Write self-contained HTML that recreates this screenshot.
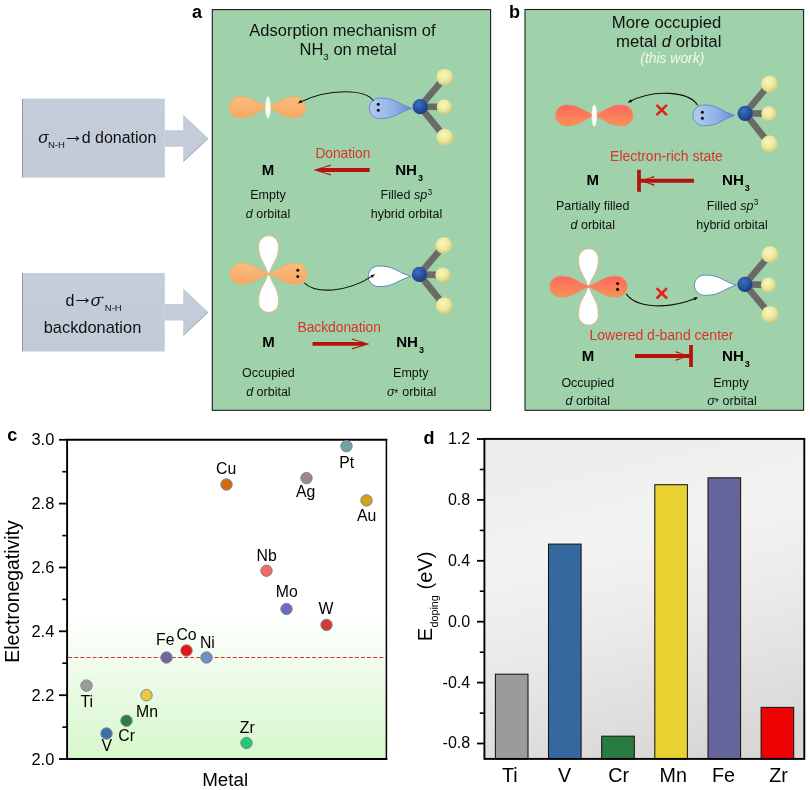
<!DOCTYPE html>
<html lang="en"><head><meta charset="utf-8"><title>Figure</title>
<style>html,body{margin:0;padding:0;background:#fff;}body{width:810px;height:790px;overflow:hidden;}svg{display:block;font-family:"Liberation Sans", Arial, sans-serif;}svg{will-change:transform;}text{white-space:pre;}</style></head><body>
<svg width="810" height="790" viewBox="0 0 810 790">
<defs>
<linearGradient id="gBox" x1="0" y1="0" x2="0" y2="1">
 <stop offset="0" stop-color="#c5cdda"/><stop offset="1" stop-color="#c2cad7"/></linearGradient>
<linearGradient id="gArr" x1="0" y1="0" x2="0" y2="1">
 <stop offset="0" stop-color="#d3d9e3"/><stop offset="0.5" stop-color="#c3cbd8"/><stop offset="1" stop-color="#a9b4c6"/></linearGradient>
<radialGradient id="gN" cx="0.4" cy="0.35" r="0.7">
 <stop offset="0" stop-color="#3f6fc0"/><stop offset="0.6" stop-color="#23509c"/><stop offset="1" stop-color="#173a78"/></radialGradient>
<radialGradient id="gH" cx="0.42" cy="0.36" r="0.7">
 <stop offset="0" stop-color="#fbf6c0"/><stop offset="0.55" stop-color="#ece79a"/><stop offset="1" stop-color="#c5c47c"/></radialGradient>
<linearGradient id="gSp" x1="0" y1="0" x2="1" y2="0">
 <stop offset="0" stop-color="#b4cbf0"/><stop offset="0.6" stop-color="#8fb0e6"/><stop offset="1" stop-color="#5f8bd6"/></linearGradient>
<radialGradient id="gOrL" cx="0.35" cy="0.5" r="0.75">
 <stop offset="0" stop-color="#f7b878"/><stop offset="1" stop-color="#f2a25c"/></radialGradient>
<linearGradient id="gOrA" x1="0" y1="0" x2="0" y2="1">
 <stop offset="0" stop-color="#fcbb7e"/><stop offset="1" stop-color="#f6a862"/></linearGradient>
<linearGradient id="gOrB" x1="0" y1="0" x2="0" y2="1">
 <stop offset="0" stop-color="#fc6660"/><stop offset="1" stop-color="#fa9355"/></linearGradient>
<linearGradient id="gC" x1="0" y1="0" x2="0" y2="1">
 <stop offset="0" stop-color="#ffffff"/><stop offset="0.55" stop-color="#ffffff"/>
 <stop offset="0.72" stop-color="#effceb"/><stop offset="1" stop-color="#d6f7cb"/></linearGradient>
<linearGradient id="gD" x1="0.38" y1="0" x2="0.62" y2="1">
 <stop offset="0" stop-color="#ececea"/><stop offset="0.3" stop-color="#f3f3f1"/><stop offset="0.55" stop-color="#ecebe9"/><stop offset="1" stop-color="#d8d7d5"/></linearGradient>
<filter id="blur1" x="-20%" y="-20%" width="140%" height="140%"><feGaussianBlur stdDeviation="0.6"/></filter>
</defs>
<rect x="22.3" y="98.6" width="142.5" height="79.0" fill="url(#gBox)"/>
<rect x="22" y="98.6" width="1" height="79.0" fill="#8d9bb2"/>
<polygon points="164.8,130.3 183.2,130.3 183.2,115.3 208,138.5 183.2,161.7 183.2,146.7 164.8,146.7" fill="#c4ccd9"/>
<path d="M208,138.5 L183.4,161.5" fill="none" stroke="#8b99b0" stroke-width="0.9"/>
<path d="M183.2,115.3 L208,138.5" fill="none" stroke="#b3bdcd" stroke-width="0.7"/>
<rect x="22.3" y="273.0" width="142.5" height="78.5" fill="url(#gBox)"/>
<rect x="22" y="273.0" width="1" height="78.5" fill="#8d9bb2"/>
<polygon points="164.8,304.1 183.2,304.1 183.2,289.1 208,312.3 183.2,335.5 183.2,320.5 164.8,320.5" fill="#c4ccd9"/>
<path d="M208,312.3 L183.4,335.3" fill="none" stroke="#8b99b0" stroke-width="0.9"/>
<path d="M183.2,289.1 L208,312.3" fill="none" stroke="#b3bdcd" stroke-width="0.7"/>
<text x="38.3" y="143.3" font-size="16" fill="#111"><tspan font-style="italic" font-size="17">σ</tspan><tspan font-size="9.5" dy="4.8" dx="-0.6">N-H</tspan><tspan font-size="21" dy="-6.2" dx="-2.0">→</tspan><tspan dy="1.4" dx="-2.2">d donation</tspan></text>
<text x="65.4" y="305.7" font-size="16" fill="#111">d<tspan font-size="21" dy="-1.4" dx="-2.0">→</tspan><tspan font-style="italic" font-size="17" dy="1.4" dx="-2.6">σ</tspan><tspan font-size="7" dy="-5.2" dx="0.2">*</tspan><tspan font-size="9.5" dy="10.6" dx="0.9">N-H</tspan></text>
<text x="92.5" y="333" font-size="16.4" text-anchor="middle" font-weight="normal" font-style="normal" fill="#111" >backdonation</text>
<rect x="212.3" y="9.6" width="278.3" height="400.7" fill="#9fd2aa" stroke="#1c1c1c" stroke-width="1.1"/>
<rect x="525.0" y="9.5" width="278.6" height="400.8" fill="#9fd2aa" stroke="#1c1c1c" stroke-width="1.1"/>
<text x="192.0" y="17.7" font-size="18" text-anchor="start" font-weight="bold" font-style="normal" fill="#000" >a</text>
<text x="508.9" y="17.7" font-size="18" text-anchor="start" font-weight="bold" font-style="normal" fill="#000" >b</text>
<path d="M268.10,107.30 C254.52,102.31 253.39,96.90 239.81,96.90 C233.95,96.90 229.20,101.56 229.20,107.30 C229.20,113.04 233.95,117.70 239.81,117.70 C253.39,117.70 254.52,112.29 268.10,107.30 Z" fill="url(#gOrA)" stroke="#f0a762" stroke-width="0.7"/>
<path d="M266.90,107.30 C280.48,102.31 281.61,96.90 295.19,96.90 C301.05,96.90 305.80,101.56 305.80,107.30 C305.80,113.04 301.05,117.70 295.19,117.70 C281.61,117.70 280.48,112.29 266.90,107.30 Z" fill="url(#gOrA)" stroke="#f0a762" stroke-width="0.7"/>
<ellipse cx="268.0" cy="107.5" rx="2.3" ry="10.7" fill="#fffdf5" stroke="#fffaf0" stroke-width="0.7" stroke-dasharray="2.4 0.9"/>
<path d="M412.00,108.30 C396.55,103.36 395.26,98.00 379.81,98.00 C374.00,98.00 369.30,102.61 369.30,108.30 C369.30,113.99 374.00,118.60 379.81,118.60 C395.26,118.60 396.55,113.24 412.00,108.30 Z" fill="url(#gSp)" stroke="#5a86cc" stroke-width="0.9"/>
<circle cx="378.3" cy="104.2" r="1.55" fill="#111"/><circle cx="378.3" cy="110.3" r="1.55" fill="#111"/>
<line x1="420.2" y1="106.7" x2="444.9" y2="77.3" stroke="#6b6a68" stroke-width="6.6" stroke-linecap="butt"/>
<line x1="420.2" y1="106.7" x2="444.3" y2="106.9" stroke="#6b6a68" stroke-width="6.6" stroke-linecap="butt"/>
<line x1="420.2" y1="106.7" x2="444.9" y2="137.2" stroke="#6b6a68" stroke-width="6.6" stroke-linecap="butt"/>
<circle cx="444.9" cy="77.3" r="8.4" fill="url(#gH)"/>
<circle cx="444.3" cy="106.9" r="7.5" fill="url(#gH)"/>
<circle cx="444.9" cy="137.2" r="8.4" fill="url(#gH)"/>
<circle cx="420.2" cy="106.7" r="7.6" fill="url(#gN)"/>
<path d="M268.60,274.60 C263.85,260.82 258.70,259.67 258.70,245.90 C258.70,240.32 263.13,235.80 268.60,235.80 C274.07,235.80 278.50,240.32 278.50,245.90 C278.50,259.67 273.35,260.82 268.60,274.60 Z" fill="#ffffff" stroke="#e3b98c" stroke-width="0.9"/>
<path d="M268.60,273.00 C263.85,287.02 258.70,288.19 258.70,302.20 C258.70,307.78 263.13,312.30 268.60,312.30 C274.07,312.30 278.50,307.78 278.50,302.20 C278.50,288.19 273.35,287.02 268.60,273.00 Z" fill="#ffffff" stroke="#e3b98c" stroke-width="0.9"/>
<path d="M269.40,273.80 C255.58,268.86 254.43,263.50 240.61,263.50 C234.80,263.50 230.10,268.11 230.10,273.80 C230.10,279.49 234.80,284.10 240.61,284.10 C254.43,284.10 255.58,278.74 269.40,273.80 Z" fill="url(#gOrA)" stroke="#f0a762" stroke-width="0.7"/>
<path d="M267.80,273.80 C281.62,268.86 282.77,263.50 296.59,263.50 C302.40,263.50 307.10,268.11 307.10,273.80 C307.10,279.49 302.40,284.10 296.59,284.10 C282.77,284.10 281.62,278.74 267.80,273.80 Z" fill="url(#gOrA)" stroke="#f0a762" stroke-width="0.7"/>
<circle cx="297.8" cy="270.3" r="1.55" fill="#111"/><circle cx="297.8" cy="276.5" r="1.55" fill="#111"/>
<path d="M410.80,276.30 C395.44,271.36 394.16,266.00 378.81,266.00 C373.00,266.00 368.30,270.61 368.30,276.30 C368.30,281.99 373.00,286.60 378.81,286.60 C394.16,286.60 395.44,281.24 410.80,276.30 Z" fill="#ffffff" stroke="#5584c0" stroke-width="0.95"/>
<line x1="419.4" y1="274.4" x2="443.9" y2="245.6" stroke="#6b6a68" stroke-width="6.6" stroke-linecap="butt"/>
<line x1="419.4" y1="274.4" x2="442.8" y2="275.1" stroke="#6b6a68" stroke-width="6.6" stroke-linecap="butt"/>
<line x1="419.4" y1="274.4" x2="444.3" y2="305.6" stroke="#6b6a68" stroke-width="6.6" stroke-linecap="butt"/>
<circle cx="443.9" cy="245.6" r="8.4" fill="url(#gH)"/>
<circle cx="442.8" cy="275.1" r="7.5" fill="url(#gH)"/>
<circle cx="444.3" cy="305.6" r="8.4" fill="url(#gH)"/>
<circle cx="419.4" cy="274.4" r="7.6" fill="url(#gN)"/>
<path d="M594.80,115.40 C581.03,110.46 579.88,105.10 566.11,105.10 C560.30,105.10 555.60,109.71 555.60,115.40 C555.60,121.09 560.30,125.70 566.11,125.70 C579.88,125.70 581.03,120.34 594.80,115.40 Z" fill="url(#gOrB)" stroke="#f8825f" stroke-width="0.7"/>
<path d="M593.60,115.40 C607.37,110.46 608.52,105.10 622.29,105.10 C628.10,105.10 632.80,109.71 632.80,115.40 C632.80,121.09 628.10,125.70 622.29,125.70 C608.52,125.70 607.37,120.34 593.60,115.40 Z" fill="url(#gOrB)" stroke="#f8825f" stroke-width="0.7"/>
<ellipse cx="594.3" cy="115.60000000000001" rx="2.3" ry="10.7" fill="#fffdf5" stroke="#fffaf0" stroke-width="0.7" stroke-dasharray="2.4 0.9"/>
<path d="M734.60,115.40 C719.68,110.41 718.43,105.00 703.51,105.00 C697.65,105.00 692.90,109.66 692.90,115.40 C692.90,121.14 697.65,125.80 703.51,125.80 C718.43,125.80 719.68,120.39 734.60,115.40 Z" fill="url(#gSp)" stroke="#5a86cc" stroke-width="0.9"/>
<circle cx="702.4" cy="112.3" r="1.55" fill="#111"/><circle cx="702.4" cy="118.3" r="1.55" fill="#111"/>
<line x1="745.1" y1="113.3" x2="769.4" y2="84.1" stroke="#6b6a68" stroke-width="6.6" stroke-linecap="butt"/>
<line x1="745.1" y1="113.3" x2="768.8" y2="113.7" stroke="#6b6a68" stroke-width="6.6" stroke-linecap="butt"/>
<line x1="745.1" y1="113.3" x2="769.4" y2="144.0" stroke="#6b6a68" stroke-width="6.6" stroke-linecap="butt"/>
<circle cx="769.4" cy="84.1" r="8.4" fill="url(#gH)"/>
<circle cx="768.8" cy="113.7" r="7.5" fill="url(#gH)"/>
<circle cx="769.4" cy="144.0" r="8.4" fill="url(#gH)"/>
<circle cx="745.1" cy="113.3" r="7.6" fill="url(#gN)"/>
<path d="M588.50,287.40 C583.75,273.67 578.60,272.53 578.60,258.80 C578.60,253.22 583.03,248.70 588.50,248.70 C593.97,248.70 598.40,253.22 598.40,258.80 C598.40,272.53 593.25,273.67 588.50,287.40 Z" fill="#ffffff" stroke="#e6b08c" stroke-width="0.9"/>
<path d="M588.50,285.80 C583.75,299.82 578.60,300.99 578.60,315.00 C578.60,320.58 583.03,325.10 588.50,325.10 C593.97,325.10 598.40,320.58 598.40,315.00 C598.40,300.99 593.25,299.82 588.50,285.80 Z" fill="#ffffff" stroke="#e6b08c" stroke-width="0.9"/>
<path d="M589.30,286.60 C575.48,281.61 574.33,276.20 560.51,276.20 C554.65,276.20 549.90,280.86 549.90,286.60 C549.90,292.34 554.65,297.00 560.51,297.00 C574.33,297.00 575.48,291.59 589.30,286.60 Z" fill="url(#gOrB)" stroke="#f8825f" stroke-width="0.7"/>
<path d="M587.70,286.60 C601.52,281.61 602.67,276.20 616.49,276.20 C622.35,276.20 627.10,280.86 627.10,286.60 C627.10,292.34 622.35,297.00 616.49,297.00 C602.67,297.00 601.52,291.59 587.70,286.60 Z" fill="url(#gOrB)" stroke="#f8825f" stroke-width="0.7"/>
<circle cx="617.6" cy="283.5" r="1.55" fill="#111"/><circle cx="617.6" cy="289.4" r="1.55" fill="#111"/>
<path d="M736.20,285.20 C721.13,280.30 719.87,275.00 704.80,275.00 C699.06,275.00 694.40,279.57 694.40,285.20 C694.40,290.83 699.06,295.40 704.80,295.40 C719.87,295.40 721.13,290.10 736.20,285.20 Z" fill="#ffffff" stroke="#5584c0" stroke-width="0.95"/>
<line x1="744.9" y1="284.3" x2="770.0" y2="254.6" stroke="#6b6a68" stroke-width="6.6" stroke-linecap="butt"/>
<line x1="744.9" y1="284.3" x2="768.4" y2="285.0" stroke="#6b6a68" stroke-width="6.6" stroke-linecap="butt"/>
<line x1="744.9" y1="284.3" x2="770.0" y2="314.3" stroke="#6b6a68" stroke-width="6.6" stroke-linecap="butt"/>
<circle cx="770.0" cy="254.6" r="8.4" fill="url(#gH)"/>
<circle cx="768.4" cy="285.0" r="7.5" fill="url(#gH)"/>
<circle cx="770.0" cy="314.3" r="8.4" fill="url(#gH)"/>
<circle cx="744.9" cy="284.3" r="7.6" fill="url(#gN)"/>
<path d="M373.4,100.8 C366,89.5 330,87.2 299.2,102.5" fill="none" stroke="#111" stroke-width="1.05"/>
<polygon points="297.80,103.40 300.75,99.76 302.40,102.51" fill="#111"/>
<path d="M304.3,282.9 C315,293.5 346,293.5 373.4,275.4" fill="none" stroke="#111" stroke-width="1.05"/>
<polygon points="375.00,274.30 372.18,278.04 370.44,275.35" fill="#111"/>
<path d="M697.7,105.2 C689,91.5 654,88.5 629.2,101.8" fill="none" stroke="#111" stroke-width="1.05"/>
<polygon points="627.50,102.70 630.63,99.22 632.14,102.05" fill="#111"/>
<path d="M656.5,104.8 L666.9000000000001,115.2 M666.9000000000001,104.8 L656.5,115.2" stroke="#e1231d" stroke-width="2.6" fill="none"/>
<path d="M626.2,293.9 C636,308 668,310 696.4,298.0" fill="none" stroke="#111" stroke-width="1.05"/>
<polygon points="698.20,297.20 694.77,300.39 693.52,297.45" fill="#111"/>
<path d="M656.5999999999999,288.1 L667.0,298.5 M667.0,288.1 L656.5999999999999,298.5" stroke="#e1231d" stroke-width="2.6" fill="none"/>
<text x="342.4" y="36.0" font-size="16.5" text-anchor="middle" font-weight="normal" font-style="normal" fill="#111" >Adsorption mechanism of</text>
<text x="348.1" y="54.5" font-size="16.5" text-anchor="middle" fill="#111">NH<tspan font-size="9.8" dy="5.3">3</tspan><tspan dy="-5.3"> on metal</tspan></text>
<text x="342.9" y="158.0" font-size="13.75" text-anchor="middle" font-weight="normal" font-style="normal" fill="#d8342a" >Donation</text>
<line x1="369.7" y1="170.0" x2="319.4" y2="170.0" stroke="#b5130f" stroke-width="3.8"/>
<polygon points="313.40,170.00 331.00,164.50 330.70,165.90 322.40,168.10 322.40,171.90 330.70,174.10 331.00,175.50" fill="#b5130f"/>
<text x="268.0" y="175.2" font-size="15.0" text-anchor="middle" font-weight="bold" font-style="normal" fill="#000" >M</text>
<text x="395.2" y="175.2" font-size="15.1" font-weight="bold" fill="#000">NH<tspan font-size="9" dy="6.0" dx="1.0">3</tspan></text>
<text x="268.0" y="199.0" font-size="12.5" text-anchor="middle" font-weight="normal" font-style="normal" fill="#111" >Empty</text>
<text x="268.0" y="217.6" font-size="12.5" text-anchor="middle" fill="#111"><tspan font-style="italic">d</tspan> orbital</text>
<text x="406.3" y="199.0" font-size="12.5" text-anchor="middle" fill="#111">Filled <tspan font-style="italic">sp</tspan><tspan font-size="8.4" dy="-4.4" dx="0.3">3</tspan></text>
<text x="406.5" y="217.6" font-size="12.5" text-anchor="middle" font-weight="normal" font-style="normal" fill="#111" >hybrid orbital</text>
<text x="339.2" y="331.6" font-size="13.75" text-anchor="middle" font-weight="normal" font-style="normal" fill="#d8342a" >Backdonation</text>
<line x1="312.5" y1="343.9" x2="363.6" y2="343.9" stroke="#b5130f" stroke-width="3.8"/>
<polygon points="369.60,343.90 352.00,338.40 352.30,339.80 360.60,342.00 360.60,345.80 352.30,348.00 352.00,349.40" fill="#b5130f"/>
<text x="268.6" y="347.2" font-size="15.0" text-anchor="middle" font-weight="bold" font-style="normal" fill="#000" >M</text>
<text x="396.2" y="347.2" font-size="15.1" font-weight="bold" fill="#000">NH<tspan font-size="9" dy="6.0" dx="1.0">3</tspan></text>
<text x="268.4" y="377.2" font-size="12.5" text-anchor="middle" font-weight="normal" font-style="normal" fill="#111" >Occupied</text>
<text x="268.4" y="395.8" font-size="12.5" text-anchor="middle" fill="#111"><tspan font-style="italic">d</tspan> orbital</text>
<text x="410.8" y="377.2" font-size="12.5" text-anchor="middle" font-weight="normal" font-style="normal" fill="#111" >Empty</text>
<text x="411.6" y="395.8" font-size="12.5" text-anchor="middle" fill="#111"><tspan font-style="italic">σ</tspan><tspan font-size="10.5" dy="0.9" dx="-0.2">*</tspan><tspan dy="-0.9" dx="0.4"> orbital</tspan></text>
<text x="666.5" y="28.4" font-size="16.7" text-anchor="middle" font-weight="normal" font-style="normal" fill="#111" >More occupied</text>
<text x="668.7" y="47.3" font-size="16.8" text-anchor="middle" fill="#111">metal <tspan font-style="italic">d</tspan> orbital</text>
<text x="672.3" y="63.3" font-size="13.9" text-anchor="middle" font-weight="normal" font-style="italic" fill="#f2f9f2" >(this work)</text>
<text x="666.5" y="161.3" font-size="14.0" text-anchor="middle" font-weight="normal" font-style="normal" fill="#d8342a" >Electron-rich state</text>
<line x1="694.0" y1="180.8" x2="639.0" y2="180.8" stroke="#b5130f" stroke-width="4.0"/>
<line x1="639.0" y1="169.8" x2="639.0" y2="191.8" stroke="#b5130f" stroke-width="3.8"/>
<polygon points="640.90,180.80 654.50,175.70 653.90,177.50 647.90,178.80 647.90,182.80 653.90,184.10 654.50,185.90" fill="#b5130f"/>
<text x="592.7" y="184.8" font-size="15.0" text-anchor="middle" font-weight="bold" font-style="normal" fill="#000" >M</text>
<text x="722.0" y="184.8" font-size="15.1" font-weight="bold" fill="#000">NH<tspan font-size="9" dy="6.0" dx="1.0">3</tspan></text>
<text x="592.7" y="209.8" font-size="12.5" text-anchor="middle" font-weight="normal" font-style="normal" fill="#111" >Partially filled</text>
<text x="592.8" y="228.6" font-size="12.5" text-anchor="middle" fill="#111"><tspan font-style="italic">d</tspan> orbital</text>
<text x="732.6" y="209.8" font-size="12.5" text-anchor="middle" fill="#111">Filled <tspan font-style="italic">sp</tspan><tspan font-size="8.4" dy="-4.4" dx="0.3">3</tspan></text>
<text x="732.0" y="228.6" font-size="12.5" text-anchor="middle" font-weight="normal" font-style="normal" fill="#111" >hybrid orbital</text>
<text x="661.5" y="339.5" font-size="14.0" text-anchor="middle" font-weight="normal" font-style="normal" fill="#d8342a" >Lowered d-band center</text>
<line x1="635.0" y1="356.0" x2="691.0" y2="356.0" stroke="#b5130f" stroke-width="4.0"/>
<line x1="691.0" y1="345.0" x2="691.0" y2="367.0" stroke="#b5130f" stroke-width="3.8"/>
<polygon points="689.10,356.00 675.50,350.90 676.10,352.70 682.10,354.00 682.10,358.00 676.10,359.30 675.50,361.10" fill="#b5130f"/>
<text x="588.0" y="360.6" font-size="15.0" text-anchor="middle" font-weight="bold" font-style="normal" fill="#000" >M</text>
<text x="722.0" y="360.6" font-size="15.1" font-weight="bold" fill="#000">NH<tspan font-size="9" dy="6.0" dx="1.0">3</tspan></text>
<text x="587.8" y="386.6" font-size="12.5" text-anchor="middle" font-weight="normal" font-style="normal" fill="#111" >Occupied</text>
<text x="587.8" y="405.2" font-size="12.5" text-anchor="middle" fill="#111"><tspan font-style="italic">d</tspan> orbital</text>
<text x="731.0" y="386.6" font-size="12.5" text-anchor="middle" font-weight="normal" font-style="normal" fill="#111" >Empty</text>
<text x="732.0" y="405.2" font-size="12.5" text-anchor="middle" fill="#111"><tspan font-style="italic">σ</tspan><tspan font-size="10.5" dy="0.9" dx="-0.2">*</tspan><tspan dy="-0.9" dx="0.4"> orbital</tspan></text>
<rect x="67.1" y="439.8" width="319.29999999999995" height="319.2" fill="url(#gC)"/>
<line x1="68.1" y1="657.5" x2="385.4" y2="657.5" stroke="#cc3a32" stroke-width="1" stroke-dasharray="4.1 2"/>
<path d="M386.4,439.8 L67.1,439.8 L67.1,759.0 L386.4,759.0" fill="none" stroke="#000" stroke-width="1.9" stroke-linejoin="miter" stroke-linecap="square"/>
<line x1="386.4" y1="439.8" x2="386.4" y2="759.0" stroke="#000" stroke-width="1.5" stroke-linecap="square"/>
<line x1="58.99999999999999" y1="439.8" x2="67.1" y2="439.8" stroke="#000" stroke-width="1.8"/>
<text x="54.3" y="445.4" font-size="16.4" text-anchor="end" font-weight="normal" font-style="normal" fill="#000" >3.0</text>
<line x1="62.3" y1="471.7" x2="67.1" y2="471.7" stroke="#000" stroke-width="1.6"/>
<line x1="58.99999999999999" y1="503.6" x2="67.1" y2="503.6" stroke="#000" stroke-width="1.8"/>
<text x="54.3" y="509.2" font-size="16.4" text-anchor="end" font-weight="normal" font-style="normal" fill="#000" >2.8</text>
<line x1="62.3" y1="535.6" x2="67.1" y2="535.6" stroke="#000" stroke-width="1.6"/>
<line x1="58.99999999999999" y1="567.5" x2="67.1" y2="567.5" stroke="#000" stroke-width="1.8"/>
<text x="54.3" y="573.1" font-size="16.4" text-anchor="end" font-weight="normal" font-style="normal" fill="#000" >2.6</text>
<line x1="62.3" y1="599.4" x2="67.1" y2="599.4" stroke="#000" stroke-width="1.6"/>
<line x1="58.99999999999999" y1="631.3" x2="67.1" y2="631.3" stroke="#000" stroke-width="1.8"/>
<text x="54.3" y="636.9" font-size="16.4" text-anchor="end" font-weight="normal" font-style="normal" fill="#000" >2.4</text>
<line x1="62.3" y1="663.2" x2="67.1" y2="663.2" stroke="#000" stroke-width="1.6"/>
<line x1="58.99999999999999" y1="695.2" x2="67.1" y2="695.2" stroke="#000" stroke-width="1.8"/>
<text x="54.3" y="700.8" font-size="16.4" text-anchor="end" font-weight="normal" font-style="normal" fill="#000" >2.2</text>
<line x1="62.3" y1="727.1" x2="67.1" y2="727.1" stroke="#000" stroke-width="1.6"/>
<line x1="58.99999999999999" y1="759.0" x2="67.1" y2="759.0" stroke="#000" stroke-width="1.8"/>
<text x="54.3" y="764.6" font-size="16.4" text-anchor="end" font-weight="normal" font-style="normal" fill="#000" >2.0</text>
<text x="0" y="0" font-size="19.4" text-anchor="middle" font-weight="normal" font-style="normal" fill="#000" transform="translate(19.1,591.5) rotate(-90)">Electronegativity</text>
<text x="225.2" y="785.6" font-size="18.8" text-anchor="middle" font-weight="normal" font-style="normal" fill="#000" >Metal</text>
<text x="7.3" y="440.8" font-size="18" text-anchor="start" font-weight="bold" font-style="normal" fill="#000" >c</text>
<circle cx="86.5" cy="685.6" r="5.7" fill="#9c9c9c" stroke="#7f848c" stroke-width="1.0"/>
<circle cx="106.5" cy="733.5" r="5.7" fill="#3b6fa9" stroke="#7f848c" stroke-width="1.0"/>
<circle cx="126.5" cy="720.7" r="5.7" fill="#2e7d47" stroke="#7f848c" stroke-width="1.0"/>
<circle cx="146.5" cy="695.2" r="5.7" fill="#e9cb3c" stroke="#7f848c" stroke-width="1.0"/>
<circle cx="166.5" cy="657.5" r="5.7" fill="#6c699f" stroke="#7f848c" stroke-width="1.0"/>
<circle cx="186.5" cy="650.5" r="5.7" fill="#ee1212" stroke="#7f848c" stroke-width="1.0"/>
<circle cx="206.5" cy="657.5" r="5.7" fill="#7090c5" stroke="#7f848c" stroke-width="1.0"/>
<circle cx="226.5" cy="484.5" r="5.7" fill="#d36a10" stroke="#7f848c" stroke-width="1.0"/>
<circle cx="246.5" cy="743.0" r="5.7" fill="#21c978" stroke="#7f848c" stroke-width="1.0"/>
<circle cx="266.5" cy="570.7" r="5.7" fill="#f4696c" stroke="#7f848c" stroke-width="1.0"/>
<circle cx="286.5" cy="609.0" r="5.7" fill="#6a6dc1" stroke="#7f848c" stroke-width="1.0"/>
<circle cx="306.5" cy="478.1" r="5.7" fill="#9a8981" stroke="#7f848c" stroke-width="1.0"/>
<circle cx="326.5" cy="624.9" r="5.7" fill="#d13b3b" stroke="#7f848c" stroke-width="1.0"/>
<circle cx="346.5" cy="446.2" r="5.7" fill="#70a1a5" stroke="#7f848c" stroke-width="1.0"/>
<circle cx="366.5" cy="500.4" r="5.7" fill="#d6a117" stroke="#7f848c" stroke-width="1.0"/>
<text x="86.7" y="706.6" font-size="15.8" text-anchor="middle" font-weight="normal" font-style="normal" fill="#000" >Ti</text>
<text x="106.8" y="751.3" font-size="15.8" text-anchor="middle" font-weight="normal" font-style="normal" fill="#000" >V</text>
<text x="126.7" y="740.7" font-size="15.8" text-anchor="middle" font-weight="normal" font-style="normal" fill="#000" >Cr</text>
<text x="147.1" y="716.5" font-size="15.8" text-anchor="middle" font-weight="normal" font-style="normal" fill="#000" >Mn</text>
<text x="165.3" y="645.0" font-size="15.8" text-anchor="middle" font-weight="normal" font-style="normal" fill="#000" >Fe</text>
<text x="186.5" y="640.2" font-size="15.8" text-anchor="middle" font-weight="normal" font-style="normal" fill="#000" >Co</text>
<text x="207.4" y="647.6" font-size="15.8" text-anchor="middle" font-weight="normal" font-style="normal" fill="#000" >Ni</text>
<text x="226.2" y="474.2" font-size="15.8" text-anchor="middle" font-weight="normal" font-style="normal" fill="#000" >Cu</text>
<text x="247.3" y="732.8" font-size="15.8" text-anchor="middle" font-weight="normal" font-style="normal" fill="#000" >Zr</text>
<text x="266.7" y="560.6" font-size="15.8" text-anchor="middle" font-weight="normal" font-style="normal" fill="#000" >Nb</text>
<text x="286.7" y="596.6" font-size="15.8" text-anchor="middle" font-weight="normal" font-style="normal" fill="#000" >Mo</text>
<text x="305.7" y="497.4" font-size="15.8" text-anchor="middle" font-weight="normal" font-style="normal" fill="#000" >Ag</text>
<text x="326.0" y="614.4" font-size="15.8" text-anchor="middle" font-weight="normal" font-style="normal" fill="#000" >W</text>
<text x="346.7" y="468.2" font-size="15.8" text-anchor="middle" font-weight="normal" font-style="normal" fill="#000" >Pt</text>
<text x="366.7" y="521.4" font-size="15.8" text-anchor="middle" font-weight="normal" font-style="normal" fill="#000" >Au</text>
<rect x="484.4" y="438.9" width="319.9" height="320.0" fill="url(#gD)"/>
<rect x="495.4" y="674.2" width="32.6" height="84.7" fill="#9b9b9b" stroke="#151515" stroke-width="1.05"/>
<text x="509.9" y="781.8" font-size="19.7" text-anchor="middle" font-weight="normal" font-style="normal" fill="#000" >Ti</text>
<rect x="548.5" y="544.1" width="32.6" height="214.8" fill="#35689e" stroke="#151515" stroke-width="1.05"/>
<text x="564.5" y="781.8" font-size="19.7" text-anchor="middle" font-weight="normal" font-style="normal" fill="#000" >V</text>
<rect x="601.7" y="736.2" width="32.6" height="22.7" fill="#2a7b41" stroke="#151515" stroke-width="1.05"/>
<text x="618.7" y="781.8" font-size="19.7" text-anchor="middle" font-weight="normal" font-style="normal" fill="#000" >Cr</text>
<rect x="654.8" y="484.7" width="32.6" height="274.2" fill="#e9d131" stroke="#151515" stroke-width="1.05"/>
<text x="673.2" y="781.8" font-size="19.7" text-anchor="middle" font-weight="normal" font-style="normal" fill="#000" >Mn</text>
<rect x="708.0" y="477.8" width="32.6" height="281.1" fill="#65659c" stroke="#151515" stroke-width="1.05"/>
<text x="723.5" y="781.8" font-size="19.7" text-anchor="middle" font-weight="normal" font-style="normal" fill="#000" >Fe</text>
<rect x="761.1" y="707.4" width="32.6" height="51.5" fill="#ee0202" stroke="#151515" stroke-width="1.05"/>
<text x="778.6" y="781.8" font-size="19.7" text-anchor="middle" font-weight="normal" font-style="normal" fill="#000" >Zr</text>
<rect x="484.4" y="438.9" width="319.9" height="320.0" fill="none" stroke="#000" stroke-width="1.9"/>
<line x1="477.0" y1="439.0" x2="484.4" y2="439.0" stroke="#000" stroke-width="1.8"/>
<text x="470.2" y="443.9" font-size="16" text-anchor="end" font-weight="normal" font-style="normal" fill="#000" >1.2</text>
<line x1="479.79999999999995" y1="469.5" x2="484.4" y2="469.5" stroke="#000" stroke-width="1.6"/>
<line x1="477.0" y1="499.9" x2="484.4" y2="499.9" stroke="#000" stroke-width="1.8"/>
<text x="470.2" y="504.8" font-size="16" text-anchor="end" font-weight="normal" font-style="normal" fill="#000" >0.8</text>
<line x1="479.79999999999995" y1="530.4" x2="484.4" y2="530.4" stroke="#000" stroke-width="1.6"/>
<line x1="477.0" y1="560.8" x2="484.4" y2="560.8" stroke="#000" stroke-width="1.8"/>
<text x="470.2" y="565.7" font-size="16" text-anchor="end" font-weight="normal" font-style="normal" fill="#000" >0.4</text>
<line x1="479.79999999999995" y1="591.2" x2="484.4" y2="591.2" stroke="#000" stroke-width="1.6"/>
<line x1="477.0" y1="621.7" x2="484.4" y2="621.7" stroke="#000" stroke-width="1.8"/>
<text x="470.2" y="626.6" font-size="16" text-anchor="end" font-weight="normal" font-style="normal" fill="#000" >0.0</text>
<line x1="479.79999999999995" y1="652.2" x2="484.4" y2="652.2" stroke="#000" stroke-width="1.6"/>
<line x1="477.0" y1="682.6" x2="484.4" y2="682.6" stroke="#000" stroke-width="1.8"/>
<text x="470.2" y="687.5" font-size="16" text-anchor="end" font-weight="normal" font-style="normal" fill="#000" >-0.4</text>
<line x1="479.79999999999995" y1="713.1" x2="484.4" y2="713.1" stroke="#000" stroke-width="1.6"/>
<line x1="477.0" y1="743.5" x2="484.4" y2="743.5" stroke="#000" stroke-width="1.8"/>
<text x="470.2" y="748.4" font-size="16" text-anchor="end" font-weight="normal" font-style="normal" fill="#000" >-0.8</text>
<text transform="translate(431.5,596.4) rotate(-90)" font-size="20.2" text-anchor="middle" fill="#000">E<tspan font-size="10.8" dy="6.0" dx="0.3">doping</tspan><tspan dy="-6.0"> (eV)</tspan></text>
<text x="423.5" y="443.5" font-size="18" text-anchor="start" font-weight="bold" font-style="normal" fill="#000" >d</text>
</svg></body></html>
